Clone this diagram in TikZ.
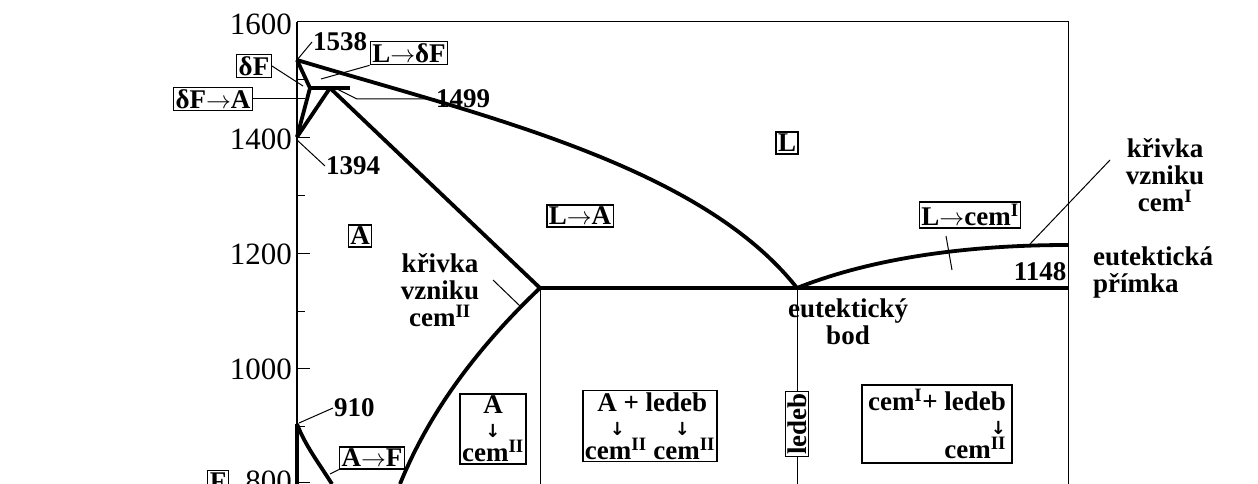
\documentclass[tikz,border=0pt]{standalone}
\usepackage{fontspec}
\setmainfont{Liberation Serif}
\newfontfamily\djv{DejaVu Sans}
\newcommand{\rar}{$\rightarrow$}
\newcommand{\dar}{{\djv\fontsize{18}{18}\selectfont ↓}}
\newcommand{\sI}{\textsuperscript{I}}
\newcommand{\sII}{\textsuperscript{II}}
\begin{document}
\begin{tikzpicture}[x=1pt,y=-1pt,
  thick line/.style={line width=3.8pt},
  thin line/.style={line width=1pt},
  lab/.style={font=\bfseries\fontsize{27}{27}\selectfont, inner sep=1pt},
  bx/.style={lab, draw, line width=1.4pt, inner sep=2pt},
  ax/.style={font=\fontsize{31}{31}\selectfont, inner sep=0pt, anchor=east}]
\useasboundingbox (0,0) rectangle (1258,484);
% frame
\draw[thin line] (297,22) -- (1068,22) -- (1068,484);
\draw[line width=1.6pt] (297,22) -- (297,484);
\draw[thick line] (297,424) -- (297,484);
% ticks
\foreach \y in {22,138,253,368,482} \draw[thin line] (297,\y) -- (310,\y);
\foreach \y in {80,195,311,426} \draw[thin line] (297,\y) -- (305,\y);
\node[ax] at (292,24) {1600};
\node[ax] at (292,139) {1400};
\node[ax] at (292,254) {1200};
\node[ax] at (292,369) {1000};
\node[ax, anchor=north east] at (292,471) {800};
% key points
\coordinate (p1538) at (297,60);
\coordinate (pd) at (310,88);
\coordinate (pp) at (330,88);
\coordinate (pl) at (350,88);
\coordinate (p1394) at (297,137);
\coordinate (E) at (540,288);
\coordinate (C) at (797,288);
\coordinate (R) at (1068,288);
% delta region
\draw[thick line] (p1538) -- (pd) -- (p1394);
\draw[thick line] (pp) -- (p1394);
\draw[thick line] (pd) -- (pl);
% liquidus
\draw[thick line] (p1538) .. controls (480,115) and (700,165) .. (C);
\draw[thick line] (C) .. controls (880,255) and (980,245) .. (1068,245);
% solidus
\draw[thick line] (pp) -- (E);
\draw[thick line] (E) -- (R);
% Acm
\draw[thick line] (E) .. controls (480,345) and (430,410) .. (400,484);
% A3
\draw[thick line] (297,424) .. controls (305,445) and (318,462) .. (332,484);
% verticals
\draw[thin line] (E) -- (540,484);
\draw[thin line] (C) -- (797,484);
% labels
\node[lab, anchor=west] (t1538) at (312,42) {1538};
\draw[thin line] (t1538.west) -- (p1538);
\node[bx] (LdF) at (409,53) {L\rar δF};
\draw[thin line] (LdF.south west) -- (321,79);
\node[bx] (dF) at (254,66) {δF};
\draw[thin line] (dF.east) -- (303,86);
\node[bx] (dFA) at (213,99) {δF\rar A};
\draw[thin line] (dFA.east) -- (305,99);
\node[lab, anchor=west] (t1499) at (435,99) {1499};
\draw[thin line] (t1499.west) -- (357,99) -- (337,89);
\node[lab, anchor=west] (t1394) at (325,166) {1394};
\draw[thin line] (t1394.west) -- (297,140);
\node[bx] (L) at (787,143) {L};
\node[bx] (A) at (360,236) {A};
\node[bx] (LA) at (580,216) {L\rar A};
\node[bx] (Lc) at (970,215) {L\rar cem\sI};
\draw[thin line] (946,236) -- (952,270);
\node[lab, align=center] (k1) at (1165,175) {křivka\\vzniku\\cem\sI};
\draw[thin line] (1110,160) -- (1030,244);
\node[lab, align=left, anchor=west] (ep) at (1092,272) {eutektická\\přímka};
\node[lab] (t1148) at (1040,272) {1148};
\node[lab, align=center] (eb) at (848,322) {eutektický\\bod};
\node[lab, align=center] (k2) at (440,290) {křivka\\vzniku\\cem\sII};
\draw[thin line] (493,280) -- (520,306);
\node[lab, anchor=west] (t910) at (333,408) {910};
\draw[thin line] (t910.west) -- (299,423);
\node[bx] (AF) at (372,458) {A\rar F};
\draw[thin line] (AF.south west) -- (330,474);
\node[bx, anchor=north] (F) at (218,470) {F};
\node[bx, align=center] (b1) at (493,429) {A\\[-3pt]\dar\\[-3pt]cem\sII};
\node[bx, align=center] (b2) at (650,426) {\,A + ledeb\\[-3pt]\dar\hspace{50pt}\dar\\[-3pt]cem\sII{} cem\sII};
\node[bx, rotate=90, fill=white] (b3) at (797,424) {ledeb};
\node[bx, align=right, minimum width=150pt, minimum height=78pt] (b4) at (937,424) {cem\sI+ ledeb\\[-3pt]\dar\hspace{18pt}\\[-3pt]cem\sII};
\end{tikzpicture}
\end{document}
